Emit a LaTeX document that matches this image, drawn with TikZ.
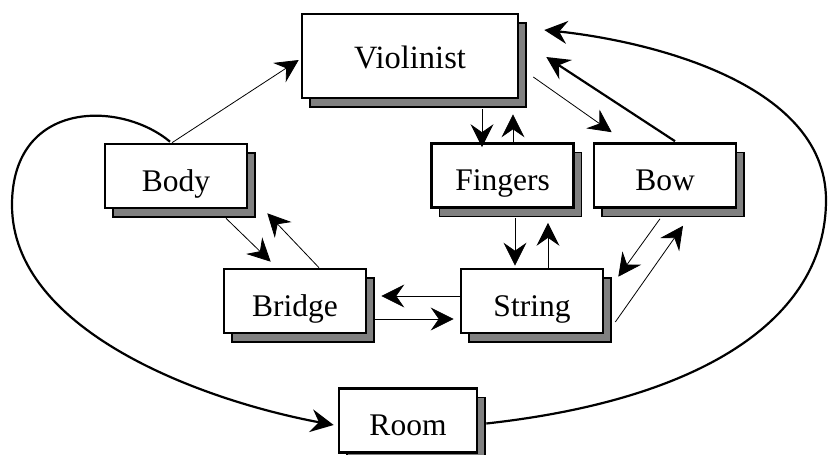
\documentclass[tikz,border=0pt]{standalone}
\usepackage{fontspec}
\setmainfont{Liberation Serif}
\usetikzlibrary{arrows.meta,shadows}
\definecolor{shadowgray}{gray}{0.5}
\begin{document}
\begin{tikzpicture}[x=1pt,y=-1pt,
  box/.style={draw, line width=2.6pt, fill=white, inner sep=0pt,
    minimum width=142pt, minimum height=64pt,
    text height=30pt, text depth=0pt,
    font=\fontsize{31.5}{36}\selectfont,
    general shadow={shadow xshift=8pt, shadow yshift=-9pt,
      fill=shadowgray, draw=black, line width=1.6pt}},
  tipstyle/.style={-{Stealth[length=23pt,width=23pt,inset=8pt]}},
  conn/.style={tipstyle, line width=0.8pt},
  heavy/.style={tipstyle, line width=2.2pt}]

\useasboundingbox (0,0) rectangle (828,455);

% boxes
\node[box, minimum width=216pt, minimum height=84pt, text height=24pt,
      font=\fontsize{32.5}{38}\selectfont] (vio) at (410,56) {Violinist};
\node[box] (body)   at (176,176)   {Body};
\node[box] (fing)   at (502.5,175.5) {Fingers};
\node[box] (bow)    at (665,175.5) {Bow};
\node[box] (bridge) at (295,301)   {Bridge};
\node[box] (string) at (532,301)   {String};
\node[box, minimum width=138pt] (room) at (408,420.5) {Room};

% straight connectors
\draw[conn] ([xshift=-4pt]body.north) -- ([xshift=-2pt,yshift=-4pt]vio.west);
\draw[conn] ([xshift=50pt,yshift=-9pt]body.south) -- ([xshift=48pt,yshift=6pt]bridge.north west);
\draw[conn] ([xshift=24pt]bridge.north) -- ([xshift=19pt,yshift=-4pt]body.south east);
\draw[conn] ([yshift=5pt]string.west) -- ([xshift=14pt,yshift=5pt]bridge.east);
\draw[conn] ([xshift=8pt,yshift=-18pt]bridge.east) -- ([xshift=-6pt,yshift=-18pt]string.west);
\draw[conn] ([xshift=12.5pt,yshift=-9pt]fing.south) -- ([xshift=-17pt,yshift=2pt]string.north);
\draw[conn] ([xshift=16pt]string.north) -- ([xshift=45.5pt,yshift=-14pt]fing.south);
\draw[conn] ([xshift=72pt,yshift=-10pt]vio.south) -- ([xshift=-20.5pt,yshift=-5pt]fing.north);
\draw[conn] ([xshift=10.5pt]fing.north) -- ([xshift=103pt,yshift=-15pt]vio.south);
\draw[conn] ([xshift=14pt,yshift=-21pt]vio.east) -- ([xshift=19pt,yshift=10pt]bow.north west);
\draw[heavy] ([xshift=10pt,yshift=1pt]bow.north) -- ([xshift=27pt,yshift=-1pt]vio.east);
\draw[conn] ([xshift=-5pt,yshift=-10pt]bow.south) -- ([xshift=14pt,yshift=-9pt]string.north east);
\draw[conn] ([xshift=11pt,yshift=-21pt]string.east) -- ([xshift=18pt,yshift=-17pt]bow.south);

% long feedback curves
\draw[heavy] ([xshift=8pt,yshift=-3pt]room.east)
  .. controls (700,400) and (826,320) .. (826,200)
  .. controls (826,80) and (640,40) .. ([xshift=25pt,yshift=26pt]vio.east);
\draw[heavy] ([xshift=-6pt,yshift=1pt]body.north)
  .. controls (120,100) and (12,100) .. (12,205)
  .. controls (12,330) and (200,400) .. ([xshift=-4pt,yshift=-4.5pt]room.west);
\end{tikzpicture}
\end{document}
